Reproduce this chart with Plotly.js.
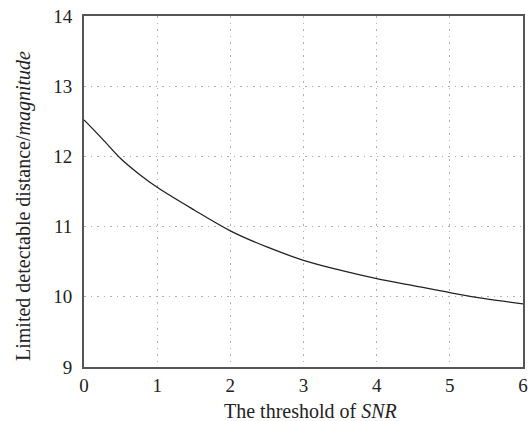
<!DOCTYPE html>
<html>
<head>
<meta charset="utf-8">
<script src="https://cdn.plot.ly/plotly-3.0.1.min.js"></script>
<style>html,body{margin:0;padding:0;background:#fff;}#chart{width:528px;height:421px;}</style>
</head>
<body>
<div id="chart"></div>
<script>
const snrThreshold = [0, 0.25, 0.5, 0.75, 1, 1.5, 2, 2.5, 3, 3.5, 4, 4.5, 5, 5.5, 6];
const detectDistance = [12.52, 12.25, 11.97, 11.75, 11.56, 11.24, 10.94, 10.71, 10.52, 10.38, 10.26, 10.16, 10.06, 9.97, 9.90];
const xTicks = [0, 1, 2, 3, 4, 5, 6];
const yTicks = [9, 10, 11, 12, 13, 14];
const xTitle = 'The threshold of <i>SNR</i>';
const yTitle = 'Limited detectable distance/<i>magnitude</i>';

const serif = "'Liberation Serif', 'Times New Roman', Times, serif";
const trace = {
  x: snrThreshold, y: detectDistance, type: 'scatter', mode: 'lines',
  line: {color: '#222', width: 1.3, shape: 'spline', smoothing: 1},
  hoverinfo: 'skip', showlegend: false
};
const axisCommon = {
  showgrid: true, gridcolor: '#b0b0b0', gridwidth: 1, griddash: '1.5px,5px',
  zeroline: false, showline: true, linecolor: '#555', linewidth: 2, mirror: true,
  ticks: '', tickfont: {family: serif, size: 19, color: '#222'}
};
const layout = {
  width: 528, height: 421,
  margin: {l: 84, r: 5, t: 16, b: 54},
  paper_bgcolor: '#fff', plot_bgcolor: '#fff',
  font: {family: serif},
  xaxis: Object.assign({}, axisCommon, {range: [0, 6], tickvals: xTicks, ticktext: xTicks.map(String), ticklabelstandoff: 0}),
  yaxis: Object.assign({}, axisCommon, {range: [9, 14], tickvals: yTicks, ticktext: yTicks.map(String), ticklabelstandoff: 6}),
  annotations: [
    {text: xTitle, xref: 'paper', yref: 'paper', x: (310.5 - 84) / 439, y: 0, yshift: -44, xanchor: 'center', yanchor: 'middle',
     showarrow: false, font: {family: serif, size: 20, color: '#222'}},
    {text: yTitle, xref: 'paper', yref: 'paper', x: 0, xshift: -74, y: (367 - 206.5) / 351, xanchor: 'left', yanchor: 'middle',
     textangle: -90, showarrow: false, font: {family: serif, size: 20, color: '#222'}}
  ]
};
Plotly.newPlot('chart', [trace], layout, {displayModeBar: false, staticPlot: true});
</script>
</body>
</html>
